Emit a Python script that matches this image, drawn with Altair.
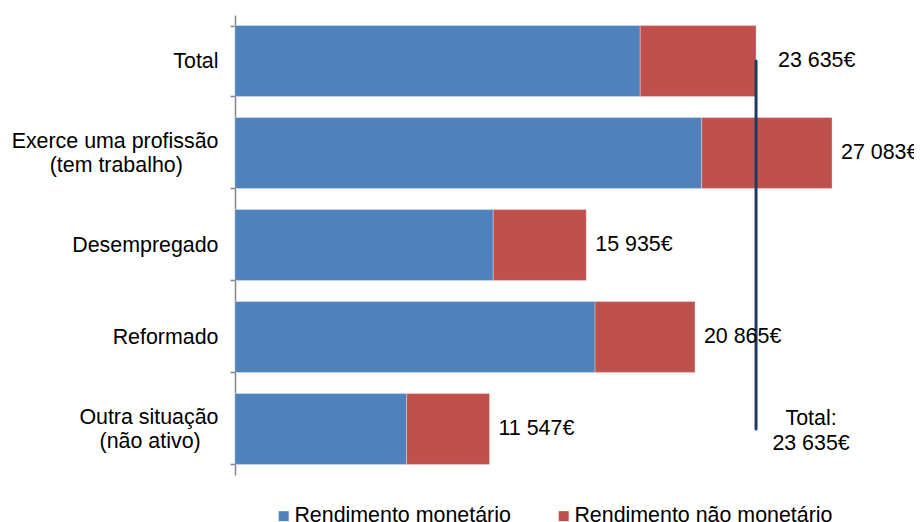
import altair as alt
import pandas as pd

# ---- data ----
PAD6 = "\u00a0" * 6 + "\u200b"
PAD3 = "\u00a0" * 3 + "\u200b"
categories = [
    "Total",
    "Exerce uma profissão|(tem trabalho)" + PAD6,
    "Desempregado",
    "Reformado",
    "Outra situação|(não ativo)" + PAD3,
]
series = ["Rendimento monetário", "Rendimento não monetário"]
monetario = [18380, 21170, 11714, 16332, 7786]
nao_monetario = [5255, 5913, 4221, 4533, 3761]
totais = [23635, 27083, 15935, 20865, 11547]
total_labels = ["23 635€", "27 083€", "15 935€", "20 865€", "11 547€"]
ref_value = 23635
ref_label = ["Total:", "23 635€"]

FONT = "Liberation Sans"
FS = 21.4

rows = []
for i, c in enumerate(categories):
    rows.append({"cat": c, "serie": series[0], "valor": monetario[i], "ordem": 0})
    rows.append({"cat": c, "serie": series[1], "valor": nao_monetario[i], "ordem": 1})
bars_df = pd.DataFrame(rows)

labels_df = pd.DataFrame({"cat": categories, "total": totais, "label": total_labels})
rule_df = pd.DataFrame({"de": [categories[0]], "ate": [categories[-1]], "v": [ref_value]})
reftext_df = pd.DataFrame({"cat": [categories[-1]], "v": [ref_value], "t": [ref_label]})

yscale = alt.Scale(domain=categories, paddingInner=0.23, paddingOuter=0.115)
xscale = alt.Scale(domain=[0, 30800], nice=False, zero=True)

bars = alt.Chart(bars_df).mark_bar(stroke="white", strokeWidth=0.6, strokeOpacity=0.5).encode(
    y=alt.Y("cat:N", scale=yscale, sort=categories,
            axis=alt.Axis(title=None,
                          labelExpr="datum.value ? split(datum.value, '|') : ''",
                          labelOffset={"condition": {"test": "isString(datum.value) && indexof(datum.value, '|') >= 0",
                                                     "value": -12}, "value": 0},
                          labelFont=FONT, labelFontSize=FS, labelColor="black",
                          labelLineHeight=24, labelPadding=12, labelLimit=300,
                          domainColor="#868686", tickColor="#868686", tickSize=5,
                          tickBand="extent", domainWidth=1.5, tickWidth=1.5)),
    x=alt.X("valor:Q", stack="zero", scale=xscale, axis=None),
    color=alt.Color("serie:N", scale=alt.Scale(domain=series, range=["#4F81BD", "#C0504D"]),
                    legend=alt.Legend(title=None, orient="none", legendX=38, legendY=490,
                                      direction="horizontal", symbolType="square",
                                      symbolSize=100, symbolStrokeWidth=0,
                                      labelFont=FONT, labelFontSize=FS, labelColor="black",
                                      labelOffset=0, columnPadding=42, labelLimit=400)),
    order=alt.Order("ordem:Q"),
)

txt_others = alt.Chart(labels_df).transform_filter(
    alt.datum.cat != categories[0]
).mark_text(align="left", baseline="middle", dx=9, font=FONT, fontSize=FS, color="black").encode(
    y=alt.Y("cat:N", scale=yscale, sort=categories),
    x=alt.X("total:Q", scale=xscale),
    text="label:N",
)
txt_total = alt.Chart(labels_df).transform_filter(
    alt.datum.cat == categories[0]
).mark_text(align="left", baseline="middle", dx=22, font=FONT, fontSize=FS, color="black").encode(
    y=alt.Y("cat:N", scale=yscale, sort=categories),
    x=alt.X("total:Q", scale=xscale),
    text="label:N",
)

rule = alt.Chart(rule_df).mark_rule(color="#1F3A60", strokeWidth=3, strokeCap="round").encode(
    y=alt.Y("de:N", scale=yscale, sort=categories),
    y2="ate:N",
    x=alt.X("v:Q", scale=xscale),
)

reftext = alt.Chart(reftext_df).mark_text(align="center", baseline="middle", dx=55, dy=-10,
                                          lineHeight=25, font=FONT, fontSize=FS,
                                          color="black").encode(
    y=alt.Y("cat:N", scale=yscale, sort=categories),
    x=alt.X("v:Q", scale=xscale),
    text="t",
)

chart = alt.layer(bars, rule, txt_others, txt_total, reftext).properties(
    width=679, height=460,
    autosize=alt.AutoSizeParams(type="none"),
    padding={"left": 227, "top": 7, "right": 0, "bottom": 47},
).configure_view(stroke=None)

chart.save("out.html", embed_options={"renderer": "svg", "actions": False})
